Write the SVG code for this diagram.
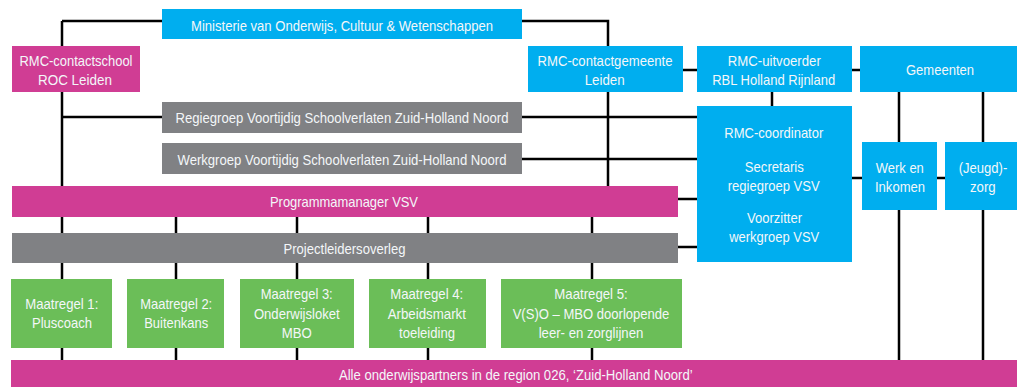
<svg xmlns="http://www.w3.org/2000/svg" width="1017" height="387" viewBox="0 0 1017 387">
<style>
.c{fill:#00AEEF}.m{fill:#D03D94}.g{fill:#808184}.gr{fill:#6BBE58}
text{font-family:"Liberation Sans",Arial,sans-serif;font-size:15px;fill:#F4F7F9;text-anchor:middle}
.ln{stroke:#000;stroke-width:2.5;fill:none}
</style>
<rect width="1017" height="387" fill="#fff"/>
<g id="connectors" class="ln">
<path d="M62,21 V186 M62,21 H162 M522,21 H608 V186"/>
<path d="M62,117 H697 M522,159 H697 M678,199 H697 M678,247 H697"/>
<path d="M683,70 H697 M852,70 H860 M772,92 V106"/>
<path d="M852,178 H862 M937,178 H945 M899,92 V360 M983,92 V360"/>
<path d="M62,216 V360 M176,216 V360 M297,216 V360 M428,216 V360 M592,216 V360"/>
</g>
<g id="ministerie"><rect class="c" x="162" y="9" width="360" height="30"/><text x="342" y="30.5" textLength="302" lengthAdjust="spacingAndGlyphs">Ministerie van Onderwijs, Cultuur &amp; Wetenschappen</text></g>
<g id="contactschool"><rect class="m" x="12" y="46" width="128" height="46"/><text x="76" y="65.5" textLength="113" lengthAdjust="spacingAndGlyphs">RMC-contactschool</text><text x="75" y="84.5" textLength="74" lengthAdjust="spacingAndGlyphs">ROC Leiden</text></g>
<g id="regiegroep"><rect class="g" x="162" y="102" width="360" height="31"/><text x="342" y="122.5" textLength="333" lengthAdjust="spacingAndGlyphs">Regiegroep Voortijdig Schoolverlaten Zuid-Holland Noord</text></g>
<g id="werkgroep"><rect class="g" x="162" y="143" width="360" height="31"/><text x="342" y="164.5" textLength="329" lengthAdjust="spacingAndGlyphs">Werkgroep Voortijdig Schoolverlaten Zuid-Holland Noord</text></g>
<g id="programmamanager"><rect class="m" x="12" y="186" width="666" height="31"/><text x="344" y="206.5" textLength="148" lengthAdjust="spacingAndGlyphs">Programmamanager VSV</text></g>
<g id="projectleiders"><rect class="g" x="12" y="233" width="666" height="30"/><text x="344.5" y="253.5" textLength="122" lengthAdjust="spacingAndGlyphs">Projectleidersoverleg</text></g>
<g id="contactgemeente"><rect class="c" x="528" y="46" width="155" height="46"/><text x="605" y="65.5" textLength="135" lengthAdjust="spacingAndGlyphs">RMC-contactgemeente</text><text x="604.7" y="84.5" textLength="40" lengthAdjust="spacingAndGlyphs">Leiden</text></g>
<g id="uitvoerder"><rect class="c" x="697" y="46" width="155" height="46"/><text x="774.3" y="65.5" textLength="93" lengthAdjust="spacingAndGlyphs">RMC-uitvoerder</text><text x="773.7" y="84.5" textLength="123" lengthAdjust="spacingAndGlyphs">RBL Holland Rijnland</text></g>
<g id="gemeenten"><rect class="c" x="860" y="46" width="157" height="46"/><text x="940" y="75" textLength="68" lengthAdjust="spacingAndGlyphs">Gemeenten</text></g>
<g id="coordinator"><rect class="c" x="697" y="106" width="155" height="156"/><text x="773.8" y="138" textLength="99" lengthAdjust="spacingAndGlyphs">RMC-coordinator</text><text x="774.3" y="171.5" textLength="59" lengthAdjust="spacingAndGlyphs">Secretaris</text><text x="773.7" y="190.5" textLength="92" lengthAdjust="spacingAndGlyphs">regiegroep VSV</text><text x="774.5" y="223" textLength="55" lengthAdjust="spacingAndGlyphs">Voorzitter</text><text x="774.2" y="241.5" textLength="90" lengthAdjust="spacingAndGlyphs">werkgroep VSV</text></g>
<g id="werkeninkomen"><rect class="c" x="862" y="142" width="75" height="68"/><text x="899.8" y="172.5" textLength="48" lengthAdjust="spacingAndGlyphs">Werk en</text><text x="900" y="191.5" textLength="50" lengthAdjust="spacingAndGlyphs">Inkomen</text></g>
<g id="jeugdzorg"><rect class="c" x="945" y="142" width="72" height="68"/><text x="983" y="172.5" textLength="48.6" lengthAdjust="spacingAndGlyphs">(Jeugd)-</text><text x="982.8" y="191.5" textLength="25.7" lengthAdjust="spacingAndGlyphs">zorg</text></g>
<g id="maatregel1"><rect class="gr" x="11" y="279" width="101" height="69"/><text x="61.8" y="309" textLength="73" lengthAdjust="spacingAndGlyphs">Maatregel 1:</text><text x="62" y="328" textLength="60" lengthAdjust="spacingAndGlyphs">Pluscoach</text></g>
<g id="maatregel2"><rect class="gr" x="127" y="279" width="97" height="69"/><text x="176.2" y="309" textLength="72" lengthAdjust="spacingAndGlyphs">Maatregel 2:</text><text x="176.2" y="328" textLength="64" lengthAdjust="spacingAndGlyphs">Buitenkans</text></g>
<g id="maatregel3"><rect class="gr" x="240" y="279" width="114" height="69"/><text x="296.7" y="299" textLength="72" lengthAdjust="spacingAndGlyphs">Maatregel 3:</text><text x="296.8" y="318.5" textLength="85.7" lengthAdjust="spacingAndGlyphs">Onderwijsloket</text><text x="296.7" y="338" textLength="30" lengthAdjust="spacingAndGlyphs">MBO</text></g>
<g id="maatregel4"><rect class="gr" x="369" y="279" width="117" height="69"/><text x="426.7" y="299" textLength="73" lengthAdjust="spacingAndGlyphs">Maatregel 4:</text><text x="426.8" y="318.5" textLength="78.3" lengthAdjust="spacingAndGlyphs">Arbeidsmarkt</text><text x="427" y="338" textLength="56" lengthAdjust="spacingAndGlyphs">toeleiding</text></g>
<g id="maatregel5"><rect class="gr" x="501" y="279" width="181" height="69"/><text x="591" y="299" textLength="73.3" lengthAdjust="spacingAndGlyphs">Maatregel 5:</text><text x="591" y="318.5" textLength="156.7" lengthAdjust="spacingAndGlyphs">V(S)O – MBO doorlopende</text><text x="591" y="338" textLength="104.7" lengthAdjust="spacingAndGlyphs">leer- en zorglijnen</text></g>
<g id="onderwijspartners"><rect class="m" x="11" y="360" width="1006" height="27"/><text x="515.8" y="380" textLength="353.7" lengthAdjust="spacingAndGlyphs">Alle onderwijspartners in de region 026, ‘Zuid-Holland Noord’</text></g>
</svg>
